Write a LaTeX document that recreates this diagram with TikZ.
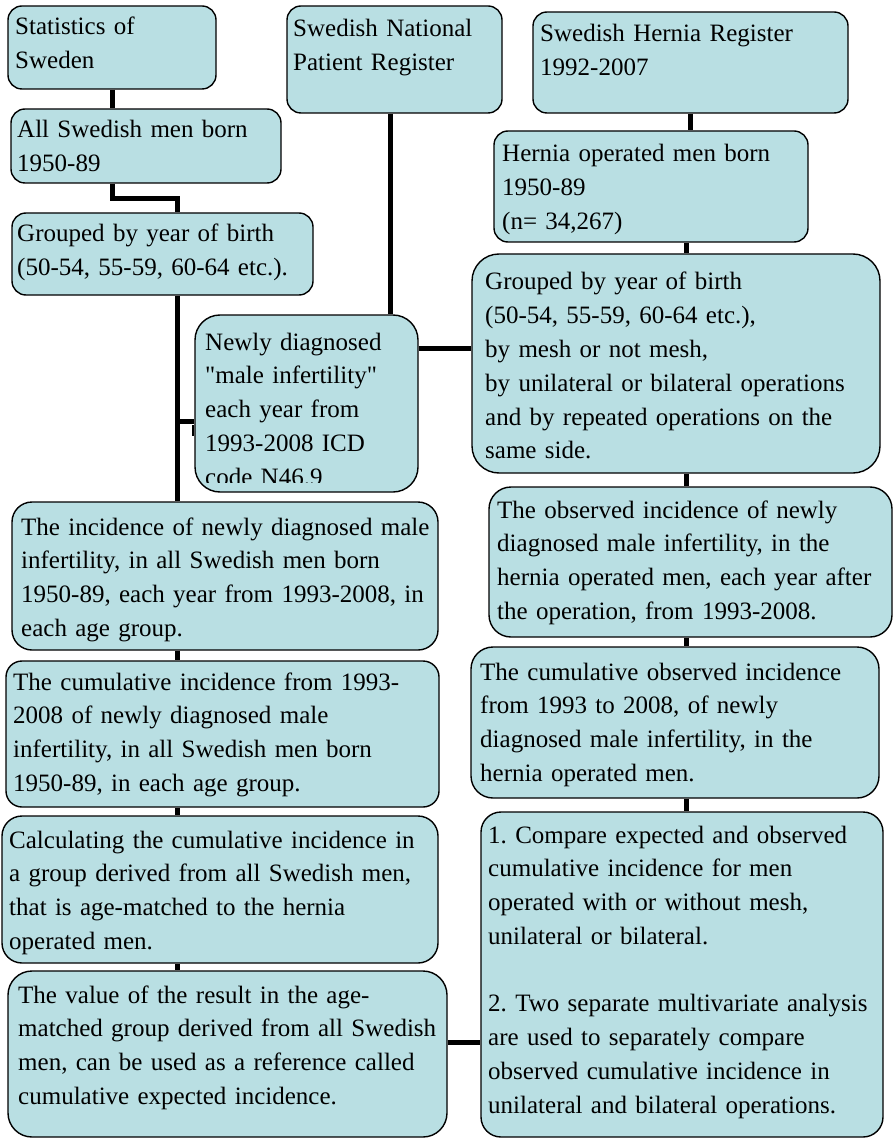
\documentclass[tikz,border=0pt]{standalone}
\usepackage{fontspec}
\setmainfont{Liberation Serif}[Ligatures=TeXOff]
\usetikzlibrary{fit,backgrounds}
\definecolor{boxblue}{RGB}{185,223,227}
\newcommand\flowbox[6][14pt]{\node[flowbox,rounded corners=#1,fit={#3 #4}] (#2) {}; \node[flowtext] (#2-t) at #5 {#6};}

\begin{document}
\frenchspacing
\begin{tikzpicture}[x=1pt,y=-1pt]
\tikzstyle{flowbox}=[draw=black,line width=1.4pt,fill=boxblue,inner sep=0pt]
\tikzstyle{flowtext}=[anchor=base west,inner sep=0pt,text width=600pt,align=left,font=\fontsize{25}{33.75}\selectfont]
\tikzstyle{link}=[draw,line width=5pt]
\useasboundingbox (0,0) rectangle (893,1139);
\coordinate (lspine) at (177,0);
\coordinate (mspine) at (390,0);
\coordinate (rspine) at (686,0);

%% left column
\flowbox{stat}{(8,6)}{(216,89)}{(15,35)}{Statistics of\\Sweden}
\flowbox{allmen}{(11,109)}{(281,183)}{(17,138)}{All Swedish men born\\1950-89}
\flowbox{grpL}{(12,213)}{(313,295)}{(17,242)}{Grouped by year of birth\\(50-54, 55-59, 60-64 etc.).}
\flowbox[20pt]{incL}{(12,502)}{(438,650)}{(21,535)}{The incidence of newly diagnosed male\\infertility, in all Swedish men born\\1950-89, each year from 1993-2008, in\\each age group.}
\flowbox[16pt]{cumL}{(6,661)}{(439,807)}{(13,690)}{The cumulative incidence from 1993-\\2008 of newly diagnosed male\\infertility, in all Swedish men born\\1950-89, in each age group.}
\flowbox[20pt]{calc}{(2,816)}{(438,963)}{(9,848)}{Calculating the cumulative incidence in\\a group derived from all Swedish men,\\that is age-matched to the hernia\\operated men.}
\flowbox[24pt]{value}{(8,971)}{(447,1137)}{(18,1003)}{The value of the result in the age-\\matched group derived from all Swedish\\men, can be used as a reference called\\cumulative expected incidence.}

%% middle
\flowbox{snpr}{(287,6)}{(502,113)}{(293,37)}{Swedish National\\Patient Register}
\node[flowbox,rounded corners=25pt,fit={(195,315) (418,492)}] (newly) {};
\begin{scope}
\clip (195,315) rectangle (418,482);
\node[flowtext] (newly-t) at (205,350) {Newly diagnosed\\"male infertility"\\each year from\\1993-2008 ICD\\code N46.9};
\end{scope}

%% right column
\flowbox{shr}{(533,12)}{(848,113)}{(540,42)}{Swedish Hernia Register\\1992-2007}
\flowbox{hom}{(494,131)}{(808,242)}{(502,162)}{Hernia operated men born\\1950-89\\(n= 34,267)}
\flowbox[27pt]{grpR}{(472,254)}{(880,473)}{(485,290)}{Grouped by year of birth\\(50-54, 55-59, 60-64 etc.),\\by mesh or not mesh,\\by unilateral or bilateral operations\\and by repeated operations on the\\same side.}
\flowbox[22pt]{obs}{(489,487)}{(892,637)}{(497,518)}{The observed incidence of newly\\diagnosed male infertility, in the\\hernia operated men, each year after\\the operation, from 1993-2008.}
\flowbox[22pt]{cumR}{(471,647)}{(879,798)}{(480,680)}{The cumulative observed incidence\\from 1993 to 2008, of newly\\diagnosed male infertility, in the\\hernia operated men.}
\flowbox[20pt]{cmp}{(481,812)}{(883,1137)}{(488,843)}{1. Compare expected and observed\\cumulative incidence for men\\operated with or without mesh,\\unilateral or bilateral.\\[33.75pt]2. Two separate multivariate analysis\\are used to separately compare\\observed cumulative incidence in\\unilateral and bilateral operations.}

%% connections
\begin{scope}[on background layer]
\path[link] (stat.south) -- (stat.south |- allmen.north);
\path[link] (stat.south |- allmen.south) -- ++(0,15) -| (lspine |- grpL.north);
\foreach \a/\b in {grpL/incL,incL/cumL,cumL/calc,calc/value}
  \path[link] (lspine |- \a.south) -- (lspine |- \b.north);
\path[link] (lspine |- 0,421) -- (newly.west |- 0,421);
\path[link] (mspine |- snpr.south) -- (mspine |- newly.north);
\path[link] (newly.east |- 0,348) -- (grpR.west |- 0,348);
\path[link] (shr.south) -- (shr.south |- hom.north);
\foreach \a/\b in {hom/grpR,grpR/obs,obs/cumR,cumR/cmp}
  \path[link] (rspine |- \a.south) -- (rspine |- \b.north);
\path[link] (value.east |- 0,1042) -- (cmp.west |- 0,1042);
\end{scope}
\path[draw,line width=1.5pt] (193,425) -- (193,436);
\end{tikzpicture}
\end{document}
